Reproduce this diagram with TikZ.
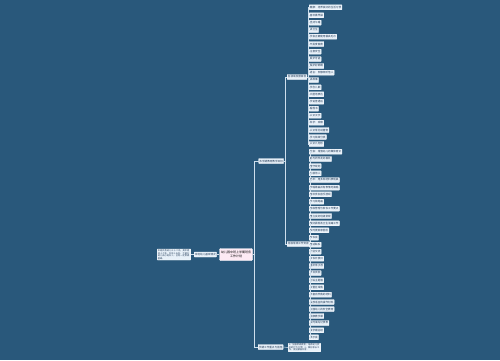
\documentclass[tikz,border=0pt]{standalone}
\usepackage{fontspec}
\newfontfamily\cjk{Noto Sans CJK SC}
\XeTeXlinebreaklocale "zh"
\XeTeXlinebreakskip=0pt plus 0.5pt
\definecolor{bg}{RGB}{41,88,123}
\definecolor{boxfill}{RGB}{232,241,249}
\definecolor{boxline}{RGB}{250,252,255}
\definecolor{txt}{RGB}{30,55,85}
\definecolor{linec}{RGB}{205,222,236}
\definecolor{pinkfill}{RGB}{253,234,244}
\begin{document}
\begin{tikzpicture}[x=1pt,y=-1pt,
  leaf/.style={draw=boxline, line width=0.3pt, fill=boxfill, text=txt,
    font=\cjk\fontsize{2.6}{3}\selectfont, inner xsep=0.8pt, inner ysep=0.5pt,
    minimum height=5pt, anchor=west, rounded corners=0.4pt},
  para/.style={leaf, font=\cjk\fontsize{2.2}{2.6}\selectfont, align=left, inner ysep=0.6pt},
  hub/.style={draw=boxline, line width=0.4pt, fill=pinkfill, text=black,
    font=\cjk\fontsize{3}{3.7}\selectfont, align=center, inner sep=1.5pt,
    minimum height=12pt, rounded corners=1pt},
  conn/.style={draw=linec, line width=0.5pt}]
\fill[bg] (0,0) rectangle (500,360);
\useasboundingbox (0,0) rectangle (500,360);

% centre and left side
\node[hub] (c) at (236,254.5) {幼儿园中班上学期班务\\工作计划};
\node[leaf] (l1) at (194,254.5) {本班幼儿基本情况};
\node[para, text width=32pt] (l0) at (157,254.5) {本班共有幼儿三十二名，其中男孩十七名，女孩十五名。大部分幼儿由小班升入，已有一定常规基础。};
\draw[conn] (l0.east) -- (l1.west);
\draw[conn] (l1.east) -- (c.west);

% level 1
\node[leaf] (r1) at (258.5,161) {本学期教育教学目标};
\node[leaf] (r2) at (258,347) {学期工作重点与措施};
\draw[conn] (c.east) -- ++(2,0) |- (r1.west);
\draw[conn] (c.east) -- ++(2,0) |- (r2.west);

\node[para, text width=31pt] (r2a) at (288,347.5) {1、加强常规教育，培养幼儿良好的行为习惯；2、做好家长工作，促进家园共育。};
\draw[conn] (r2.east) -- (r2a.west);

% level 2
\node[leaf] (sa) at (287,77) {各领域发展目标};
\node[leaf] (sb) at (287,244) {班级常规工作安排};
\draw[conn] (r1.east) -- ++(1.5,0) |- (sa.west);
\draw[conn] (r1.east) -- ++(1.5,0) |- (sb.west);

% leaves of sa
\foreach [count=\i] \yy/\tt in {
  7.3/健康：培养良好的生活习惯,
  15.3/喜欢做早操,
  22.7/坚持午睡,
  30/讲卫生,
  36.7/学会正确使用餐具毛巾,
  44/不挑食偏食,
  51.7/注意安全,
  59/爱护牙齿,
  66/保护好眼睛,
  72.7/语言：安静倾听他人,
  80/讲故事,
  87.3/学念儿歌,
  94.3/大胆地表达,
  101.7/学说普通话,
  108.7/看图书,
  115.7/认识汉字,
  122.7/科学：观察,
  130/认识常见动植物,
  137/学习简单分类,
  144/认识几何形}
{
  \node[leaf] (a\i) at (309,\yy) {\tt};
  \draw[conn] (sa.east) -- ++(1.5,0) |- (a\i.west);
}

% leaves of sb
\foreach [count=\i] \yy/\tt in {
  151.7/社会：增强幼儿的集体意识,
  159/能与同伴友好相处,
  166/遵守规则,
  173.3/礼貌待人,
  180/艺术：用多种材料表现美,
  187.7/学唱歌曲并有表情地演唱,
  194.3/喜欢参加音乐游戏,
  201.7/学习简笔画,
  208.7/班级管理与家长工作要点,
  216/建立良好班级常规,
  223.3/做好晨检及卫生消毒工作,
  230.3/及时更新家园栏,
  237.7/家长会,
  244.7/电话联系,
  251.7/个别交流,
  258.7/家长开放日,
  266/组织亲子游,
  273/节日庆祝,
  280.3/创设主题墙,
  287.3/布置区域角,
  294.7/丰富自然角的材料,
  302/投放适宜的操作材料,
  309/加强幼儿的安全教育,
  316/观摩教学课,
  323/及时填写记录表,
  330.3/做学期总结,
  337.3/展示会}
{
  \node[leaf] (b\i) at (309,\yy) {\tt};
  \draw[conn] (sb.east) -- ++(0.5,0) |- (b\i.west);
}
\end{tikzpicture}
\end{document}
